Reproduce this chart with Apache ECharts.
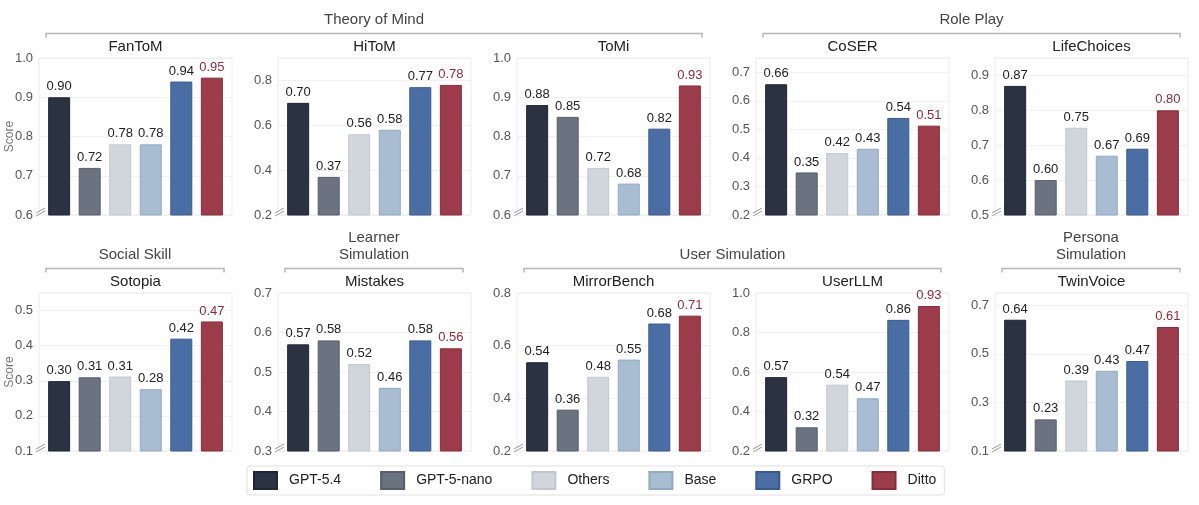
<!DOCTYPE html>
<html>
<head>
<meta charset="utf-8">
<script src="https://cdn.jsdelivr.net/npm/echarts@6/dist/echarts.min.js"></script>
<style>
html,body{margin:0;padding:0;background:#fff;}
#c{width:1199px;height:505px;}
</style>
</head>
<body>
<div id="c"></div>
<script>
// ---- data ----
const models = ['GPT-5.4', 'GPT-5-nano', 'Others', 'Base', 'GRPO', 'Ditto'];
const benchmarks = ['FanToM', 'HiToM', 'ToMi', 'CoSER', 'LifeChoices', 'Sotopia', 'Mistakes', 'MirrorBench', 'UserLLM', 'TwinVoice'];
const fantom      = [0.90, 0.72, 0.78, 0.78, 0.94, 0.95];
const hitom       = [0.70, 0.37, 0.56, 0.58, 0.77, 0.78];
const tomi        = [0.88, 0.85, 0.72, 0.68, 0.82, 0.93];
const coser       = [0.658, 0.349, 0.417, 0.432, 0.54, 0.513];
const lifechoices = [0.87, 0.60, 0.75, 0.67, 0.69, 0.80];
const sotopia     = [0.299, 0.31, 0.312, 0.276, 0.42, 0.469];
const mistakes    = [0.57, 0.58, 0.52, 0.46, 0.58, 0.56];
const mirrorbench = [0.537, 0.357, 0.482, 0.547, 0.684, 0.714];
const userllm     = [0.574, 0.32, 0.536, 0.467, 0.864, 0.934];
const twinvoice   = [0.64, 0.23, 0.39, 0.43, 0.47, 0.61];
const panelValues = [fantom, hitom, tomi, coser, lifechoices, sotopia, mistakes, mirrorbench, userllm, twinvoice];
// y-axis ranges [min, max, interval]
const yMins      = [0.6, 0.2, 0.6, 0.2, 0.5, 0.1, 0.3, 0.2, 0.2, 0.1];
const yMaxs      = [1.0, 0.9, 1.0, 0.75, 0.95, 0.55, 0.7, 0.8, 1.0, 0.75];
const yIntervals = [0.1, 0.2, 0.1, 0.1, 0.1, 0.1, 0.1, 0.2, 0.2, 0.2];
// groups: [label lines, first panel, last panel]
const groups = [
  [['Theory of Mind'], 0, 2],
  [['Role Play'], 3, 4],
  [['Social Skill'], 5, 5],
  [['Learner', 'Simulation'], 6, 6],
  [['User Simulation'], 7, 8],
  [['Persona', 'Simulation'], 9, 9]
];

// ---- style / layout ----
const FONT = "'Liberation Sans', Arial, Helvetica, sans-serif";
const fills   = ['#2b3242', '#6b7280', '#d1d5dc', '#a8bcd2', '#4a6ea4', '#9c3c4a'];
const borders = ['#1f2534', '#575e6b', '#c2c7cf', '#93a9c1', '#3b5b8d', '#832e3b'];
const colLefts = [39, 278, 517, 756, 995];
const gridW = 193;
const rowTops = [58, 293];
const rowHeights = [157, 158];

function gridRect(p) {
  const r = Math.floor(p / 5), c = p % 5;
  return {left: colLefts[c], top: rowTops[r], width: gridW, height: rowHeights[r]};
}

const grids = [], xAxes = [], yAxes = [], series = [], graphics = [];
benchmarks.forEach((b, p) => {
  const g = gridRect(p);
  grids.push({left: g.left, top: g.top, width: g.width, height: g.height, show: true,
    borderColor: '#ebebeb', borderWidth: 1, backgroundColor: 'transparent'});
  xAxes.push({type: 'value', gridIndex: p, min: -0.66, max: 5.66, show: false});
  const steps = (yMaxs[p] - yMins[p]) / yIntervals[p];
  yAxes.push({type: 'value', gridIndex: p, min: yMins[p], max: yMaxs[p], interval: yIntervals[p],
    axisLine: {show: false}, axisTick: {show: false},
    splitLine: {show: true, lineStyle: {color: '#f1f1f1', width: 1}},
    axisLabel: {color: '#555', fontSize: 13, fontFamily: FONT, margin: 6,
      showMaxLabel: Math.abs(steps - Math.round(steps)) < 1e-6,
      formatter: v => v.toFixed(1)}
  });
  models.forEach((m, i) => {
    series.push({
      type: 'bar', name: m, xAxisIndex: p, yAxisIndex: p,
      data: [[i, panelValues[p][i]]],
      barWidth: 22, barGap: '-100%',
      itemStyle: {color: fills[i], borderColor: borders[i], borderWidth: 1},
      label: {show: true, position: 'top', distance: 4, fontSize: 13, fontFamily: FONT,
        color: i === 5 ? '#8b2d3b' : '#222',
        formatter: d => d.value[1].toFixed(2)}
    });
  });
  // panel title
  graphics.push({type: 'text', x: g.left + g.width / 2, y: g.top - 11,
    style: {text: b, font: '15px ' + FONT, fill: '#222', align: 'center', verticalAlign: 'middle'}});
  // axis-break marks
  const bx = g.left, by = g.top + g.height;
  graphics.push({type: 'line', shape: {x1: bx - 3, y1: by - 2, x2: bx + 6, y2: by - 7}, style: {stroke: '#999', lineWidth: 1}});
  graphics.push({type: 'line', shape: {x1: bx - 3, y1: by + 1, x2: bx + 6, y2: by - 4}, style: {stroke: '#999', lineWidth: 1}});
});

// Score axis names
[0, 1].forEach(r => {
  graphics.push({type: 'text', x: 10, y: rowTops[r] + rowHeights[r] / 2, rotation: Math.PI / 2,
    style: {text: 'Score', font: '12px ' + FONT, fill: '#777', align: 'center', verticalAlign: 'middle'}});
});

// group headers with brackets
groups.forEach(([lines, a, z]) => {
  const ga = gridRect(a), gz = gridRect(z);
  const x1 = ga.left + 7, x2 = gz.left + gz.width - 8;
  const ly = ga.top - 24.5;
  graphics.push({type: 'polyline', shape: {points: [[x1, ly + 4], [x1, ly], [x2, ly], [x2, ly + 4]]},
    style: {stroke: '#b5b5bd', lineWidth: 1.5, fill: null}});
  const cx = (x1 + x2) / 2;
  lines.forEach((t, k) => {
    graphics.push({type: 'text', x: cx, y: ly - 14 - (lines.length - 1 - k) * 17,
      style: {text: t, font: '15px ' + FONT, fill: '#444', align: 'center', verticalAlign: 'middle'}});
  });
});

const chart = echarts.init(document.getElementById('c'), null, {renderer: 'canvas'});
chart.setOption({
  animation: false,
  backgroundColor: '#fff',
  textStyle: {fontFamily: FONT},
  grid: grids,
  xAxis: xAxes,
  yAxis: yAxes,
  series: series,
  legend: {
    data: models.map(m => ({name: m, icon: 'rect'})), left: 247, top: 466, orient: 'horizontal',
    itemWidth: 23, itemHeight: 17, itemGap: 39,
    padding: [5, 8, 5, 6],
    borderColor: '#e0e0e0', borderWidth: 1, borderRadius: 3,
    textStyle: {fontSize: 14, color: '#222', fontFamily: FONT, padding: [0, 0, 0, 7]},
    selectedMode: false
  },
  graphic: graphics
});
</script>
</body>
</html>
